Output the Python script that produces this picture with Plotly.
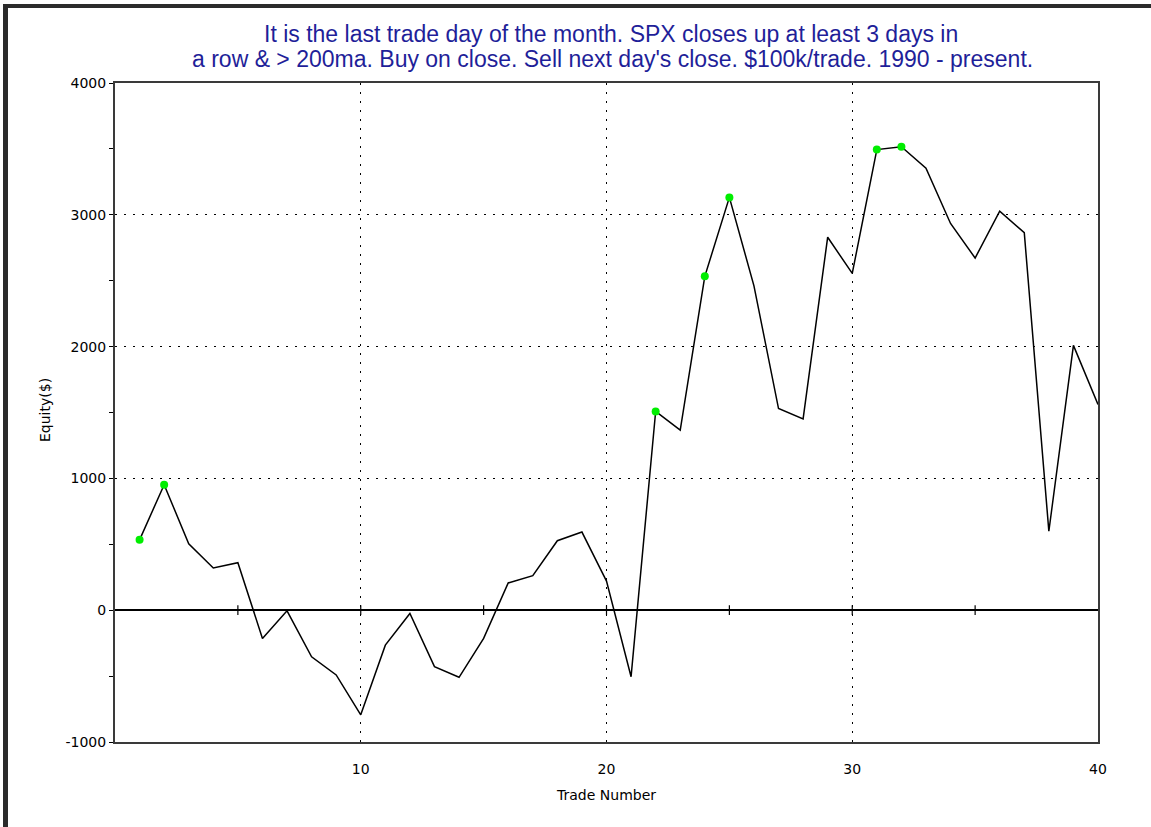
import plotly.graph_objects as go

# ---- data ----
trade_number = list(range(1, 41))
equity = [534, 952, 504, 320, 360, -214, -5, -353, -491, -794,
          -265, -25, -428, -509, -214, 207, 262, 527, 593, 221,
          -505, 1508, 1366, 2533, 3132, 2461, 1530, 1451, 2830, 2555,
          3495, 3517, 3353, 2934, 2672, 3028, 2864, 599, 2009, 1561]

title_lines = ["It is the last trade day of the month. SPX closes up at least 3 days in",
               "a row &amp; &gt; 200ma. Buy on close. Sell next day's close. $100k/trade. 1990 - present."]
x_ticks = [10, 20, 30, 40]
y_ticks = [-1000, 0, 1000, 2000, 3000, 4000]
y_tick_labels = ["-1000", "0", "1000", "2000", "3000", "4000"]

# new equity highs (green dots)
hi_x, hi_y = [], []
run_max = float("-inf")
for t, e in zip(trade_number, equity):
    if e > run_max:
        hi_x.append(t)
        hi_y.append(e)
        run_max = e

W, H = 1151, 827
L, R, T, B = 115, 53, 83, 85
pw, ph = W - L - R, H - T - B

def px_x(p):
    return (p - L) / pw

def px_y(p):
    return (H - B - p) / ph

fig = go.Figure()

# small tick crosses on the zero line
zt = list(range(5, 40, 5))
fig.add_trace(go.Scatter(x=zt, y=[0] * len(zt), mode="markers",
                         marker=dict(symbol="line-ns-open", size=7, color="black",
                                     line=dict(color="black", width=1.2)),
                         hoverinfo="skip", showlegend=False))

fig.add_trace(go.Scatter(x=trade_number, y=equity, mode="lines",
                         line=dict(color="black", width=1.5),
                         showlegend=False))
fig.add_trace(go.Scatter(x=hi_x, y=hi_y, mode="markers",
                         marker=dict(color="#00ee00", size=8),
                         showlegend=False))

axis_font = dict(family="DejaVu Sans", size=14, color="black")
grid_dash = "2px,7px"

fig.update_xaxes(range=[0, 40], tickvals=x_ticks, ticks="", showline=True,
                 mirror=True, linecolor="#3a3a3a", linewidth=2,
                 showgrid=True, gridcolor="black", griddash=grid_dash, gridwidth=1,
                 zeroline=False, tickfont=axis_font, ticklabelstandoff=13)
fig.update_yaxes(range=[-1000, 4000], tickvals=y_ticks, ticktext=y_tick_labels,
                 ticks="outside", ticklen=4, tickcolor="black", showline=True, mirror=True,
                 linecolor="#3a3a3a", linewidth=2,
                 showgrid=True, gridcolor="black", griddash=grid_dash, gridwidth=1,
                 zeroline=True, zerolinecolor="black", zerolinewidth=1.5,
                 minor=dict(dtick=500, tick0=0, ticks="outside", ticklen=4,
                            tickcolor="black", showgrid=False),
                 tickfont=axis_font)

shapes = [
    # dark outer frame: top band and left band
    dict(type="rect", xref="paper", yref="paper",
         x0=px_x(3), x1=px_x(W), y0=px_y(8), y1=px_y(4),
         fillcolor="#2b2b2b", line=dict(width=0), layer="above"),
    dict(type="rect", xref="paper", yref="paper",
         x0=px_x(3), x1=px_x(8), y0=px_y(H), y1=px_y(4),
         fillcolor="#2b2b2b", line=dict(width=0), layer="above"),
]

title_font = dict(family="Liberation Sans", size=23, color="#1f1f99")
annotations = [
    dict(text=title_lines[0], xref="paper", yref="paper", x=px_x(611), y=px_y(34),
         showarrow=False, font=title_font, xanchor="center", yanchor="middle"),
    dict(text=title_lines[1], xref="paper", yref="paper", x=px_x(612), y=px_y(59),
         showarrow=False, font=title_font, xanchor="center", yanchor="middle"),
    dict(text="Equity($)", xref="paper", yref="paper", x=px_x(45), y=px_y(410),
         textangle=-90, showarrow=False, font=dict(family="DejaVu Sans", size=14, color="black"),
         xanchor="center", yanchor="middle"),
    dict(text="Trade Number", xref="paper", yref="paper", x=px_x(606), y=px_y(795),
         showarrow=False, font=dict(family="DejaVu Sans", size=14, color="black"),
         xanchor="center", yanchor="middle"),
]

fig.update_layout(
    width=W, height=H,
    margin=dict(l=L, r=R, t=T, b=B),
    paper_bgcolor="white", plot_bgcolor="white",
    shapes=shapes, annotations=annotations,
    showlegend=False,
)

fig.write_html("out.html", config={"displayModeBar": False},
               post_script="document.body.style.margin='0';document.body.style.overflow='hidden';")
